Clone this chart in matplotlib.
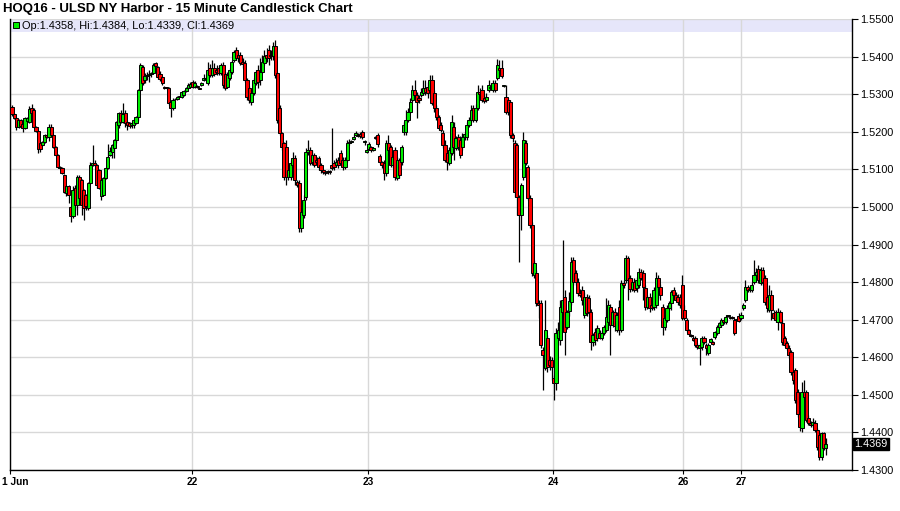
import numpy as np
import matplotlib
matplotlib.use('Agg')
import matplotlib.pyplot as plt
from matplotlib.transforms import ScaledTranslation

title = 'HOQ16 - ULSD NY Harbor - 15 Minute Candlestick Chart'
day_labels = ['1 Jun', '22', '23', '24', '26', '27']
day_ticks = [-0.9, 82.7, 163.6, 248.6, 308.4, 335.0]   # bar index where each day starts
price_ticks = [1.43, 1.44, 1.45, 1.46, 1.47, 1.48, 1.49, 1.50, 1.51, 1.52, 1.53, 1.54, 1.55]

# 15 minute bars, prices in 1/10000 units
opens = [
    15266, 15247, 15237, 15213, 15231, 15221, 15210, 15229, 15226, 15263, 15258, 15213, 15202, 15170, 15165,
    15173, 15191, 15186, 15213, 15191, 15160, 15138, 15106, 15104, 15085, 15037, 15056, 15000, 14976, 15050,
    15005, 15080, 15072, 15045, 15032, 14997, 15064, 15112, 15117, 15112, 15098, 15029, 15032, 15077, 15104,
    15138, 15146, 15157, 15178, 15218, 15250, 15226, 15250, 15226, 15223, 15218, 15218, 15223, 15239, 15311,
    15372, 15338, 15348, 15351, 15354, 15356, 15383, 15372, 15354, 15346, 15319, 15319, 15316, 15279, 15263,
    15287, 15287, 15293, 15293, 15298, 15308, 15316, 15319, 15332, 15319, 15322, 15316, 15324, 15338, 15340,
    15330, 15370, 15351, 15370, 15364, 15370, 15356, 15378, 15354, 15319, 15343, 15359, 15391, 15418, 15404,
    15404, 15386, 15383, 15338, 15316, 15279, 15303, 15330, 15364, 15338, 15359, 15383, 15404, 15418, 15404,
    15402, 15428, 15356, 15263, 15197, 15170, 15160, 15080, 15080, 15112, 15130, 15066, 15064, 14944, 14979,
    15026, 15146, 15152, 15120, 15138, 15125, 15130, 15112, 15098, 15093, 15093, 15096, 15112, 15117, 15112,
    15125, 15144, 15125, 15106, 15125, 15170, 15173, 15181, 15191, 15191, 15194, 15199, 15173, 15146, 15154,
    15160, 15152, 15186, 15191, 15136, 15120, 15117, 15090, 15170, 15160, 15112, 15152, 15077, 15125, 15120,
    15199, 15199, 15231, 15253, 15285, 15311, 15298, 15290, 15298, 15303, 15316, 15319, 15311, 15338, 15303,
    15263, 15239, 15218, 15197, 15165, 15144, 15117, 15144, 15213, 15157, 15186, 15178, 15160, 15186, 15186,
    15218, 15231, 15263, 15231, 15263, 15306, 15311, 15290, 15285, 15311, 15316, 15311, 15330, 15343, 15370,
    15370, 15322, 15293, 15285, 15279, 15191, 15170, 15165, 15026, 14979, 15080, 15170, 15106, 15024, 14952,
    14819, 14824, 14744, 14744, 14620, 14572, 14652, 14593, 14593, 14545, 14532, 14652, 14646, 14721, 14761,
    14680, 14723, 14747, 14859, 14824, 14800, 14771, 14779, 14713, 14761, 14758, 14721, 14641, 14667, 14652,
    14665, 14652, 14665, 14673, 14694, 14734, 14686, 14721, 14673, 14734, 14673, 14798, 14806, 14864, 14811,
    14782, 14800, 14785, 14793, 14827, 14824, 14785, 14734, 14761, 14739, 14734, 14739, 14811, 14787, 14734,
    14681, 14699, 14731, 14745, 14779, 14766, 14761, 14761, 14793, 14726, 14699, 14673, 14660, 14652, 14652,
    14633, 14625, 14628, 14652, 14633, 14612, 14641, 14641, 14654, 14665, 14681, 14686, 14699, 14694, 14710,
    14707, 14707, 14699, 14700, 14710, 14705, 14731, 14753, 14787, 14779, 14779, 14800, 14819, 14835, 14798,
    14832, 14811, 14761, 14726, 14766, 14718, 14721, 14694, 14721, 14691, 14652, 14638, 14625, 14614, 14561,
    14567, 14508, 14449, 14412, 14508, 14508, 14439, 14426, 14420, 14426, 14407, 14394, 14335, 14399, 14358,
]
highs = [
    15271, 15250, 15240, 15234, 15234, 15223, 15240, 15240, 15269, 15274, 15263, 15215, 15205, 15173, 15175,
    15194, 15194, 15221, 15221, 15194, 15162, 15141, 15109, 15106, 15088, 15058, 15058, 15003, 15056, 15058,
    15085, 15085, 15075, 15048, 15035, 15066, 15120, 15165, 15125, 15115, 15101, 15075, 15080, 15106, 15167,
    15160, 15167, 15181, 15229, 15253, 15258, 15277, 15258, 15229, 15226, 15226, 15234, 15242, 15314, 15383,
    15378, 15356, 15359, 15364, 15358, 15383, 15386, 15375, 15362, 15348, 15322, 15319, 15319, 15282, 15290,
    15290, 15295, 15293, 15308, 15311, 15319, 15330, 15332, 15338, 15335, 15324, 15316, 15332, 15354, 15346,
    15386, 15380, 15391, 15383, 15378, 15375, 15383, 15386, 15359, 15359, 15370, 15391, 15418, 15426, 15412,
    15412, 15396, 15391, 15343, 15322, 15306, 15343, 15364, 15378, 15396, 15404, 15418, 15423, 15431, 15418,
    15439, 15444, 15359, 15271, 15199, 15173, 15178, 15112, 15125, 15146, 15138, 15072, 15072, 14997, 15032,
    15157, 15178, 15160, 15152, 15144, 15133, 15136, 15117, 15101, 15096, 15098, 15098, 15210, 15125, 15130,
    15133, 15152, 15133, 15133, 15178, 15181, 15178, 15194, 15202, 15197, 15199, 15205, 15178, 15154, 15173,
    15162, 15160, 15189, 15197, 15141, 15122, 15125, 15178, 15191, 15165, 15141, 15160, 15133, 15130, 15165,
    15226, 15258, 15263, 15290, 15324, 15338, 15306, 15298, 15316, 15338, 15338, 15332, 15351, 15351, 15311,
    15271, 15245, 15226, 15205, 15178, 15152, 15160, 15245, 15226, 15189, 15194, 15189, 15197, 15199, 15226,
    15239, 15271, 15271, 15274, 15324, 15316, 15324, 15298, 15303, 15338, 15330, 15338, 15338, 15394, 15391,
    15391, 15324, 15324, 15290, 15285, 15197, 15178, 15170, 15032, 15064, 15199, 15178, 15112, 15032, 14960,
    14859, 14832, 14753, 14753, 14628, 14753, 14660, 14604, 14601, 14553, 14678, 14694, 14753, 14912, 14779,
    14726, 14774, 14867, 14867, 14832, 14811, 14782, 14790, 14774, 14769, 14766, 14729, 14665, 14678, 14686,
    14673, 14670, 14686, 14758, 14753, 14742, 14726, 14731, 14721, 14753, 14806, 14806, 14872, 14869, 14819,
    14806, 14811, 14814, 14838, 14835, 14832, 14793, 14766, 14771, 14753, 14787, 14827, 14819, 14795, 14742,
    14713, 14739, 14750, 14779, 14787, 14774, 14769, 14769, 14819, 14739, 14705, 14675, 14662, 14657, 14657,
    14638, 14638, 14657, 14657, 14638, 14638, 14652, 14644, 14670, 14686, 14694, 14704, 14704, 14713, 14713,
    14710, 14710, 14705, 14705, 14718, 14721, 14745, 14806, 14793, 14787, 14801, 14859, 14838, 14845, 14840,
    14840, 14819, 14785, 14793, 14779, 14726, 14726, 14731, 14726, 14699, 14657, 14644, 14633, 14620, 14567,
    14572, 14516, 14457, 14534, 14540, 14513, 14447, 14431, 14439, 14434, 14412, 14402, 14402, 14402, 14384,
]
lows = [
    15242, 15234, 15205, 15210, 15213, 15199, 15207, 15226, 15223, 15247, 15210, 15199, 15144, 15146, 15162,
    15170, 15183, 15175, 15189, 15157, 15136, 15104, 15101, 15088, 15037, 15029, 15011, 14960, 14971, 14992,
    14979, 15005, 14979, 14965, 14992, 14992, 15061, 15109, 15109, 15050, 15048, 15019, 15029, 15074, 15101,
    15136, 15130, 15130, 15170, 15210, 15223, 15223, 15213, 15205, 15210, 15210, 15210, 15221, 15229, 15308,
    15324, 15330, 15338, 15332, 15346, 15354, 15372, 15340, 15335, 15324, 15314, 15314, 15271, 15239, 15258,
    15285, 15285, 15293, 15290, 15295, 15306, 15314, 15316, 15316, 15316, 15316, 15314, 15322, 15335, 15338,
    15324, 15346, 15346, 15348, 15351, 15351, 15351, 15316, 15311, 15316, 15338, 15354, 15386, 15391, 15386,
    15378, 15370, 15332, 15285, 15277, 15271, 15298, 15324, 15316, 15324, 15356, 15378, 15386, 15378, 15391,
    15391, 15343, 15223, 15191, 15152, 15072, 15058, 15072, 15072, 15106, 15058, 15053, 14933, 14933, 14971,
    15019, 15138, 15112, 15112, 15106, 15112, 15098, 15090, 15088, 15085, 15088, 15088, 15098, 15098, 15106,
    15104, 15112, 15098, 15101, 15120, 15165, 15170, 15178, 15189, 15186, 15183, 15181, 15165, 15144, 15152,
    15146, 15148, 15181, 15160, 15114, 15104, 15072, 15082, 15138, 15106, 15104, 15072, 15072, 15077, 15112,
    15191, 15191, 15226, 15250, 15279, 15290, 15237, 15277, 15293, 15298, 15298, 15290, 15306, 15271, 15253,
    15231, 15205, 15199, 15157, 15120, 15098, 15112, 15138, 15125, 15152, 15152, 15130, 15152, 15178, 15178,
    15213, 15226, 15226, 15226, 15258, 15290, 15279, 15277, 15279, 15306, 15311, 15306, 15306, 15338, 15351,
    15343, 15319, 15247, 15245, 15183, 15173, 15026, 14979, 14854, 14939, 15072, 15112, 15019, 14944, 14816,
    14811, 14736, 14704, 14625, 14513, 14567, 14561, 14567, 14540, 14487, 14513, 14633, 14633, 14713, 14606,
    14675, 14710, 14740, 14793, 14793, 14763, 14761, 14739, 14705, 14710, 14715, 14620, 14630, 14633, 14644,
    14649, 14646, 14660, 14667, 14678, 14606, 14680, 14670, 14667, 14660, 14667, 14785, 14798, 14753, 14774,
    14777, 14774, 14774, 14785, 14806, 14753, 14726, 14729, 14721, 14726, 14726, 14731, 14758, 14753, 14660,
    14673, 14694, 14726, 14726, 14761, 14750, 14739, 14731, 14699, 14699, 14667, 14660, 14654, 14644, 14628,
    14622, 14580, 14620, 14636, 14606, 14606, 14638, 14633, 14649, 14660, 14678, 14681, 14689, 14689, 14707,
    14702, 14702, 14660, 14698, 14694, 14699, 14726, 14747, 14774, 14774, 14774, 14795, 14814, 14798, 14793,
    14793, 14739, 14721, 14721, 14699, 14699, 14694, 14673, 14690, 14633, 14628, 14620, 14598, 14553, 14530,
    14479, 14441, 14404, 14402, 14487, 14428, 14420, 14415, 14415, 14402, 14354, 14327, 14327, 14354, 14339,
]
closes = [
    15247, 15237, 15213, 15231, 15215, 15210, 15237, 15237, 15261, 15250, 15213, 15202, 15154, 15154, 15173,
    15191, 15186, 15213, 15191, 15160, 15138, 15106, 15104, 15090, 15040, 15056, 15032, 14976, 15045, 15005,
    15080, 15024, 15005, 14997, 15003, 15064, 15112, 15117, 15112, 15058, 15050, 15072, 15077, 15104, 15133,
    15149, 15165, 15178, 15226, 15250, 15226, 15247, 15223, 15218, 15215, 15223, 15231, 15239, 15311, 15378,
    15330, 15348, 15351, 15354, 15356, 15378, 15375, 15346, 15340, 15330, 15316, 15316, 15277, 15263, 15285,
    15287, 15293, 15293, 15306, 15308, 15316, 15324, 15327, 15319, 15330, 15318, 15314, 15330, 15343, 15343,
    15364, 15351, 15370, 15354, 15359, 15356, 15378, 15324, 15316, 15351, 15364, 15386, 15412, 15396, 15396,
    15383, 15380, 15338, 15293, 15285, 15303, 15338, 15359, 15332, 15359, 15386, 15402, 15396, 15396, 15402,
    15428, 15351, 15231, 15197, 15160, 15080, 15080, 15098, 15117, 15130, 15072, 15058, 14944, 14987, 15019,
    15146, 15152, 15117, 15138, 15112, 15120, 15106, 15098, 15093, 15090, 15096, 15093, 15104, 15106, 15120,
    15112, 15117, 15106, 15125, 15170, 15173, 15175, 15186, 15197, 15189, 15189, 15186, 15173, 15152, 15167,
    15152, 15157, 15183, 15167, 15120, 15112, 15090, 15170, 15152, 15112, 15133, 15080, 15125, 15085, 15160,
    15218, 15231, 15253, 15279, 15311, 15298, 15279, 15285, 15306, 15316, 15306, 15303, 15338, 15277, 15263,
    15239, 15210, 15205, 15165, 15125, 15120, 15152, 15226, 15160, 15183, 15160, 15138, 15186, 15194, 15218,
    15231, 15258, 15231, 15263, 15306, 15301, 15285, 15282, 15293, 15324, 15319, 15330, 15311, 15378, 15364,
    15348, 15322, 15253, 15253, 15191, 15183, 15040, 15026, 14979, 15058, 15178, 15117, 15024, 14952, 14824,
    14851, 14744, 14739, 14633, 14606, 14673, 14574, 14580, 14574, 14532, 14665, 14673, 14734, 14753, 14667,
    14720, 14750, 14854, 14800, 14800, 14771, 14766, 14753, 14761, 14718, 14721, 14641, 14660, 14646, 14678,
    14652, 14665, 14681, 14707, 14739, 14686, 14721, 14683, 14713, 14673, 14798, 14793, 14864, 14806, 14782,
    14800, 14779, 14806, 14827, 14811, 14787, 14734, 14761, 14731, 14731, 14779, 14811, 14787, 14766, 14681,
    14705, 14731, 14745, 14774, 14766, 14753, 14747, 14739, 14705, 14705, 14673, 14662, 14657, 14646, 14633,
    14628, 14633, 14652, 14641, 14625, 14633, 14649, 14636, 14667, 14681, 14691, 14699, 14694, 14707, 14710,
    14705, 14705, 14665, 14702, 14697, 14713, 14739, 14787, 14779, 14782, 14793, 14819, 14827, 14806, 14832,
    14800, 14747, 14731, 14766, 14726, 14705, 14699, 14721, 14694, 14641, 14633, 14625, 14606, 14561, 14540,
    14487, 14449, 14415, 14508, 14495, 14434, 14426, 14420, 14428, 14407, 14362, 14335, 14399, 14359, 14369,
]

assert len(opens) == len(highs) == len(lows) == len(closes)

o = np.array(opens) / 1e4
h = np.array(highs) / 1e4
l = np.array(lows) / 1e4
c = np.array(closes) / 1e4
x = np.arange(len(o))

plt.rcParams['font.family'] = ['Liberation Sans', 'DejaVu Sans']

fig = plt.figure(figsize=(9, 5.11), dpi=100)
ax = fig.add_axes([10 / 900, 41 / 511, 842 / 900, 451 / 511])

# grid + top band
ax.set_yticks(price_ticks)
ax.set_xticks(day_ticks)
ax.grid(True, color='#d8d8d8', lw=1, zorder=0)
ax.axhspan(1.5466, 1.55, color='#e6e6fa', lw=0, zorder=1)

# candles
colors = np.where(c >= o, '#00ee00', '#ff0000')
ax.vlines(x, l, h, color='black', lw=0.9, zorder=2)
body = np.maximum(np.abs(c - o), 0.00012)
ax.bar(x, body, bottom=np.minimum(o, c), width=1.45, color=colors,
       edgecolor='black', linewidth=0.7, zorder=3)

ax.set_xlim(-0.92, 386)
ax.set_ylim(1.43, 1.55)

# axes styling
ax.spines['top'].set_visible(False)
for side in ['left', 'right', 'bottom']:
    ax.spines[side].set_color('black')
    ax.spines[side].set_linewidth(1)
ax.yaxis.tick_right()
ax.set_yticklabels(['%.4f' % v for v in price_ticks])
ax.tick_params(axis='y', direction='out', length=4, width=0.8, labelsize=7.8, pad=2)
ax.set_xticklabels(day_labels)
ax.tick_params(axis='x', direction='out', length=3, width=0.8, pad=2)
for lab in ax.get_xticklabels():
    lab.set_family(['Liberation Sans Narrow', 'Liberation Sans'])
    lab.set_fontweight('bold')
    lab.set_fontsize(7.3)
first = ax.get_xticklabels()[0]
first.set_horizontalalignment('left')
first.set_transform(first.get_transform() + ScaledTranslation(-8 / 100, 0, fig.dpi_scale_trans))

# last price marker
ax.text(1.003, c[-1], '%.4f' % c[-1], transform=ax.get_yaxis_transform(),
        color='white', fontsize=7.8, va='center', ha='left',
        bbox=dict(facecolor='black', edgecolor='black', pad=0.8))

# title and legend strip
fig.text(3 / 900, 1 - 9 / 511, title, fontsize=9.5, fontweight='bold', va='center')
ax.plot([0.0075], [0.986], marker='s', ms=5, mfc='#00ee00', mec='black', mew=0.7,
        transform=ax.transAxes, clip_on=False, zorder=5)
fig.text(22 / 900, 1 - 26 / 511,
         'Op:%.4f, Hi:%.4f, Lo:%.4f, Cl:%.4f' % (o[-1], h[-1], l[-1], c[-1]),
         fontsize=7.9, va='center')

fig.savefig('out.png', dpi=100)
